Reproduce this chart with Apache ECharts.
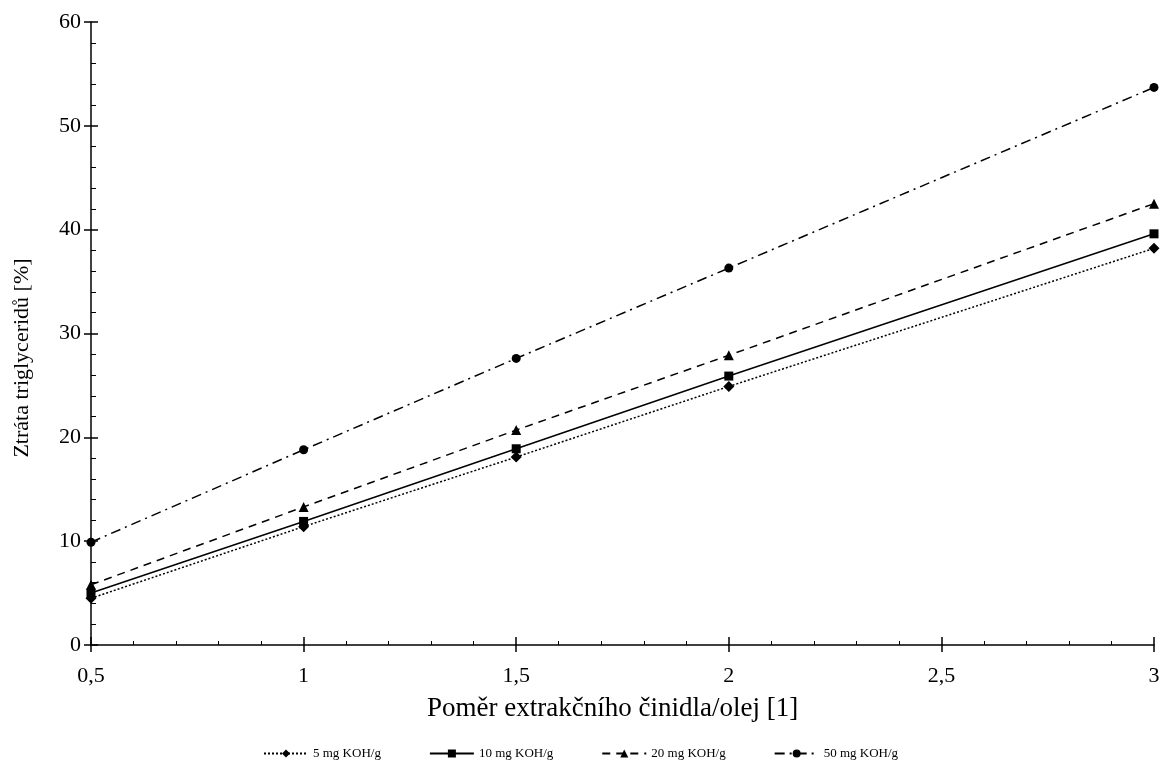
<!DOCTYPE html>
<html>
<head>
<meta charset="utf-8">
<script src="https://cdn.jsdelivr.net/npm/echarts@6/dist/echarts.min.js"></script>
<style>
  html, body { margin: 0; padding: 0; background: #fff; }
  #chart { width: 1168px; height: 771px; }
</style>
</head>
<body>
<div id="chart"></div>
<script>
// data
var ratios = [0.5, 1, 1.5, 2, 3];
var series5 = [4.5, 11.4, 18.1, 24.9, 38.2];
var series10 = [5.0, 11.9, 18.9, 25.9, 39.6];
var series20 = [5.8, 13.3, 20.7, 27.9, 42.5];
var series50 = [9.9, 18.8, 27.6, 36.3, 53.7];
var names = ['5 mg KOH/g', '10 mg KOH/g', '20 mg KOH/g', '50 mg KOH/g'];

function pairs(ys) {
    return ratios.map(function (x, i) { return [x, ys[i]]; });
}

var font = 'Liberation Serif, Times New Roman, serif';
var chart = echarts.init(document.getElementById('chart'));

function mk(name, ys, symbol, dash, size) {
    return {
        name: name,
        type: 'line',
        data: pairs(ys),
        symbol: symbol,
        symbolSize: size,
        lineStyle: { color: '#000', width: 1.5, type: dash },
        itemStyle: { color: '#000' }
    };
}

// 主轴：标签 + 外侧刻度
var xMain = {
    type: 'value', position: 'bottom', min: 0.5, max: 3, interval: 0.5,
    axisLine: { lineStyle: { color: '#000', width: 1.5 } },
    axisTick: { inside: false, length: 7, lineStyle: { color: '#000', width: 1.5 } },
    splitLine: { show: false },
    axisLabel: {
        fontFamily: font, fontSize: 22, color: '#000', margin: 20,
        formatter: function (v) { return String(v).replace('.', ','); }
    }
};
// 副轴：内侧刻度 + 次刻度
var xInner = {
    type: 'value', position: 'bottom', min: 0.5, max: 3, interval: 0.5,
    axisLine: { show: false },
    axisTick: { inside: true, length: 8, lineStyle: { color: '#000', width: 1.5 } },
    minorTick: { show: true, splitNumber: 5, length: 4, lineStyle: { color: '#000' } },
    splitLine: { show: false },
    axisLabel: { show: false }
};
var yMain = {
    type: 'value', position: 'left', min: 0, max: 60, interval: 10,
    axisLine: { show: true, lineStyle: { color: '#000', width: 1.5 } },
    axisTick: { show: true, inside: false, length: 7, lineStyle: { color: '#000', width: 1.5 } },
    splitLine: { show: false },
    axisLabel: { fontFamily: font, fontSize: 22, color: '#000', margin: 10 }
};
var yInner = {
    type: 'value', position: 'left', min: 0, max: 60, interval: 10,
    axisLine: { show: false },
    axisTick: { show: true, inside: true, length: 7, lineStyle: { color: '#000', width: 1.5 } },
    minorTick: { show: true, splitNumber: 5, length: 5, lineStyle: { color: '#000' } },
    splitLine: { show: false },
    axisLabel: { show: false }
};

var option = {
    animation: false,
    grid: { left: 91, right: 14, top: 22, bottom: 126 },
    legend: {
        bottom: 6,
        left: 258,
        itemWidth: 44,
        itemHeight: 10,
        itemGap: 48,
        textStyle: { fontFamily: font, fontSize: 13, color: '#000' },
        data: names
    },
    graphic: [
        {
            type: 'text', left: 427, top: 695,
            style: { text: 'Poměr extrakčního činidla/olej [1]', fontFamily: font, fontSize: 27, fill: '#000' }
        },
        {
            type: 'text', x: 22, y: 358, rotation: Math.PI / 2,
            style: { text: 'Ztráta triglyceridů [%]', fontFamily: font, fontSize: 22, fill: '#000',
                     align: 'center', verticalAlign: 'middle' }
        }
    ],
    xAxis: [xMain, xInner],
    yAxis: [yMain, yInner],
    series: [
        mk(names[0], series5, 'diamond', [2, 2], 11),
        mk(names[1], series10, 'rect', 'solid', 9),
        mk(names[2], series20, 'triangle', [8, 6], 10),
        mk(names[3], series50, 'circle', [10, 5, 2, 5], 9)
    ]
};
chart.setOption(option);
</script>
</body>
</html>
